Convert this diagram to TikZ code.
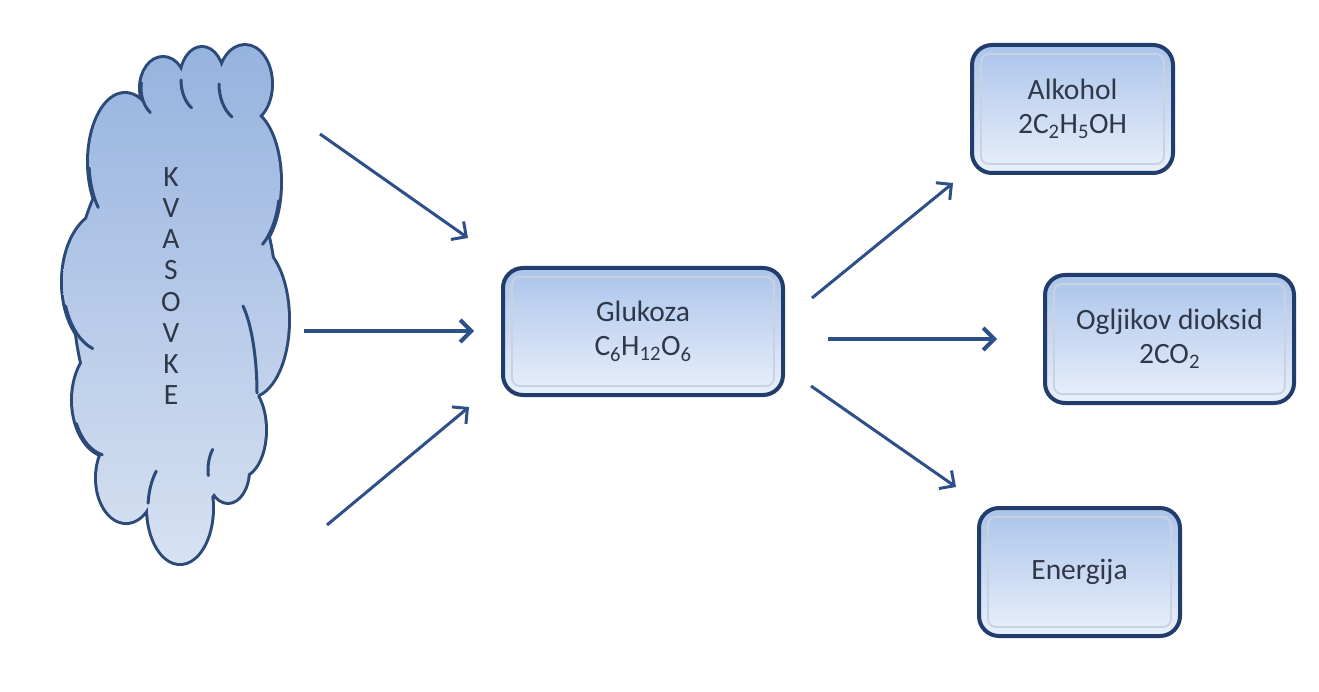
\documentclass[tikz,border=0pt]{standalone}
\usepackage{fontspec}
\setmainfont{Carlito}
\usetikzlibrary{arrows.meta,calc}
\definecolor{boxborder}{HTML}{223D6B}
\definecolor{arrowcol}{HTML}{2E5088}
\definecolor{cloudline}{HTML}{2B4A78}
\definecolor{cloudtop}{HTML}{94B1DE}
\definecolor{cloudbot}{HTML}{DAE4F3}
\definecolor{boxtop}{HTML}{ABC4EB}
\definecolor{boxbot}{HTML}{E9F0FB}
\definecolor{txt}{HTML}{2F3848}
\definecolor{innerln}{HTML}{C9D2DE}
\newcommand\lobehook[6]{\draw[hook] (#1,#2) ++(#5:#3pt and #4pt) arc[start angle=#5,end angle=#6,x radius=#3pt,y radius=#4pt];}
\begin{document}
\begin{tikzpicture}[x=1pt,y=-1pt,
  box/.style={rectangle, rounded corners=20pt, draw=boxborder, line width=4pt,
    top color=boxtop, bottom color=boxbot, text=txt, align=center,
    font=\fontsize{29.5}{34}\selectfont, inner sep=0pt},
  innerbox/.style={draw=innerln, line width=1.8pt, rounded corners=8pt},
  arr/.style={draw=arrowcol, line width=3pt, -{Straight Barb[length=11pt,width=22pt]}},
  arrh/.style={arr, line width=4pt},
  hook/.style={draw=cloudline, line width=3pt, line cap=round},
  clp/.style={insert path={
    (175,305) ellipse [x radius=80pt, y radius=215pt]
    (175,300) ellipse [x radius=100pt, y radius=170pt]
    (200,135) ellipse [x radius=60pt, y radius=50pt]
    (163,88) ellipse [x radius=22pt, y radius=30pt]
    (202,80) ellipse [x radius=21pt, y radius=32pt]
    (245,84) ellipse [x radius=26pt, y radius=38pt]
    (125,162) ellipse [x radius=36pt, y radius=68pt]
    (106,282) ellipse [x radius=43pt, y radius=70pt]
    (110,400) ellipse [x radius=37pt, y radius=56pt]
    (126,478) ellipse [x radius=29pt, y radius=44pt]
    (180,508) ellipse [x radius=32pt, y radius=55pt]
    (228,470) ellipse [x radius=20pt, y radius=32pt]
    (240,430) ellipse [x radius=25pt, y radius=46pt]
    (250,320) ellipse [x radius=38pt, y radius=76pt]
    (245,182) ellipse [x radius=35pt, y radius=72pt]
  }}]
\useasboundingbox (0,0) rectangle (1319,692);
\fill[white] (0,0) rectangle (1319,692);
% cloud
\draw[cloudline, line width=6pt, clp];
\begin{scope}
  \clip[clp];
  \shade[top color=cloudtop, bottom color=cloudbot] (40,30) rectangle (310,590);
\end{scope}
% inner hooks of the cloud (continuations of the puffs)
\lobehook{163}{88}{22}{30}{170}{235}
\lobehook{202}{80}{21}{32}{180}{240}
\lobehook{245}{84}{26}{38}{180}{240}
\lobehook{245}{182}{35}{72}{345}{300}
\lobehook{125}{162}{36}{68}{185}{222}
\lobehook{106}{282}{43}{70}{200}{252}
\lobehook{110}{400}{37}{56}{205}{258}
\lobehook{180}{508}{32}{55}{175}{138}
\lobehook{228}{470}{20}{32}{190}{140}
\draw[hook] (257,393) .. controls (257,360) and (252,325) .. (243,306);
\node[text=txt, align=center, font=\fontsize{29.5}{31.2}\selectfont] (kv) at (171,286)
  {K\\V\\A\\S\\O\\V\\K\\E};
% boxes
\node[box, minimum width=280pt, minimum height=127pt] (glu) at (643,331.5)
  {Glukoza\\C\textsubscript{6}H\textsubscript{12}O\textsubscript{6}};
\node[box, minimum width=201pt, minimum height=128pt] (alk) at (1072.5,109)
  {Alkohol\\2C\textsubscript{2}H\textsubscript{5}OH};
\node[box, minimum width=249pt, minimum height=128pt] (co2) at (1169.5,339)
  {Ogljikov dioksid\\2CO\textsubscript{2}};
\node[box, minimum width=201pt, minimum height=128pt] (ene) at (1079.5,572)
  {Energija};
\foreach \n in {glu,alk,co2,ene}{
  \draw[innerbox] ($(\n.south west)+(11pt,11pt)$) rectangle ($(\n.north east)-(11pt,11pt)$);
}
% arrow end points
\coordinate (a1s) at (320,134); \coordinate (a1e) at (468,238);
\coordinate (a2s) at (304,331); \coordinate (a2e) at (474,331);
\coordinate (a3s) at (327,525); \coordinate (a3e) at (469,407);
\coordinate (a4s) at (812,298); \coordinate (a4e) at (953,183);
\coordinate (a5s) at (828,339); \coordinate (a5e) at (997,339);
\coordinate (a6s) at (811,386); \coordinate (a6e) at (956,487);
\draw[arr] (a1s) -- (a1e);
\draw[arrh] (a2s) -- (a2e);
\draw[arr] (a3s) -- (a3e);
\draw[arr] (a4s) -- (a4e);
\draw[arrh] (a5s) -- (a5e);
\draw[arr] (a6s) -- (a6e);
\end{tikzpicture}
\end{document}
